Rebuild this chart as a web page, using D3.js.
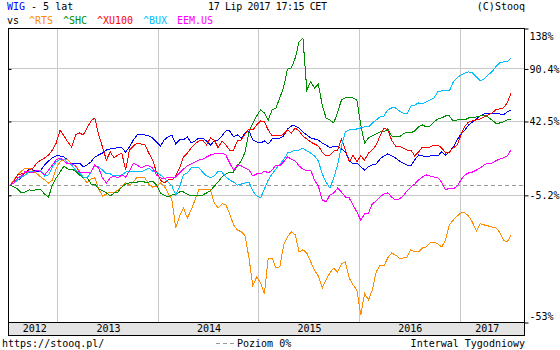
<!DOCTYPE html>
<html>
<head>
<meta charset="utf-8">
<script src="https://cdn.jsdelivr.net/npm/d3@7"></script>
<style>
  body { margin: 0; background: #fff; }
  svg text { font-family: "DejaVu Sans Mono", monospace; font-size: 10px; }
</style>
</head>
<body>
<svg id="chart" width="560" height="350"></svg>
<script>
// Quotes sampled every 2 weeks, percent change since the first week
const startDate = "2012-07-13";
const endDate = "2017-07-14";
const stepDays = 14;

const seriesNames = ["WIG", "^RTS", "^SHC", "^XU100", "^BUX", "EEM.US"];
const seriesColors = ["#0000ff", "#ff8c00", "#008c00", "#ff0000", "#00bfff", "#ff00ff"];

const wig = [0,1.2,2.9,4.1,7.5,9.3,8.7,7.5,8.7,11.8,14.3,16.2,17.5,17.5,16.8,14.9,12.4,13.0,13.0,10.6,11.8,13.7,16.8,18.1,19.4,21.4,22.1,22.1,23.4,22.8,20.1,23.4,28.3,31.9,31.9,31.9,31.2,29.7,26.9,24.1,28.3,30.5,31.9,25.5,28.3,28.3,30.5,26.2,27.6,29.7,29.7,27.6,24.8,27.6,28.3,31.2,34.9,34.9,30.5,31.9,29.7,33.4,34.9,28.3,26.9,26.2,27.6,25.5,29.0,29.7,29.7,31.2,36.4,38.6,38.6,37.1,34.1,31.9,29.7,29.0,28.3,26.2,24.8,22.8,24.1,24.1,22.1,20.1,14.9,12.4,13.0,10.6,8.7,10.6,11.8,12.4,15.5,17.5,18.8,17.5,16.2,14.3,13.0,11.8,11.2,14.9,18.1,17.5,16.8,17.5,18.1,17.5,20.1,18.1,20.1,23.4,28.3,32.6,35.6,39.4,41.7,44.1,46.5,48.1,48.9,48.9,48.9,48.1,47.3,49.7,51.4];
const rts = [0,2.9,5.8,8.1,9.9,9.9,8.1,6.4,4.6,2.9,1.2,2.9,9.9,13.7,15.5,14.9,12.4,11.2,8.1,4.1,1.2,3.5,4.1,-2.1,-5.8,-4.8,-3.7,-4.2,-2.6,-1.0,1.2,0,1.7,4.6,4.6,4.1,0.6,-1.0,-0.5,1.2,-0.5,-4.2,-7.8,-21.0,-15.7,-11.8,-16.6,-12.8,-7.8,-2.6,-2.1,-2.6,-2.6,-9.3,-11.8,-9.8,-10.3,-14.7,-19.7,-21.9,-22.7,-24.4,-33.1,-42.6,-39.7,-41.7,-45.1,-33.1,-33.1,-36.7,-36.3,-28.1,-24.8,-22.7,-24.0,-30.8,-30.0,-31.2,-34.5,-37.4,-39.4,-43.3,-40.7,-38.4,-36.7,-38.1,-35.2,-34.5,-40.1,-42.3,-43.9,-51.2,-45.0,-46.9,-43.9,-38.1,-35.6,-36.0,-33.1,-31.2,-32.0,-33.1,-33.1,-32.7,-30.0,-30.8,-30.8,-29.3,-28.9,-27.3,-26.9,-27.7,-28.9,-26.1,-19.7,-17.5,-15.7,-14.2,-14.2,-15.7,-18.6,-22.3,-19.2,-19.7,-20.1,-20.6,-21.0,-22.7,-26.1,-26.9,-24.0];
const shc = [0,-1.0,-2.1,-4.2,-3.7,-2.6,-3.1,-2.1,-2.6,-4.8,-6.3,0,4.1,7.5,11.2,9.3,9.3,8.1,5.8,4.1,4.6,0.6,0.6,-2.1,-3.1,-4.2,-5.8,-4.2,-3.7,-1.0,0.6,1.2,1.7,1.7,2.3,1.7,1.7,2.3,0,-4.2,-5.3,-6.3,-5.3,-4.8,-3.7,-3.7,-4.8,-5.8,-5.8,-5.3,-5.3,-4.2,-3.1,-0.5,1.7,4.6,6.4,7.5,7.5,11.2,14.3,20.1,34.0,40.9,46.5,51.4,48.9,43.3,51.4,53.1,61.8,71.9,89.7,90.9,101.7,120.4,125.3,69.1,76.7,71.0,74.8,55.6,44.9,43.3,40.9,49.7,60.0,61.8,61.8,61.8,60.0,39.4,26.2,29.7,31.2,32.6,34.1,34.1,36.4,31.2,30.5,30.5,32.6,34.1,33.4,34.9,37.9,39.4,37.9,38.6,41.7,44.1,44.9,46.5,46.5,42.5,43.3,43.3,43.3,44.9,44.9,45.7,46.5,47.3,45.7,43.3,40.9,40.9,41.7,43.3,44.1];
const xu100 = [0,2.3,5.8,6.4,7.0,8.7,9.9,13.0,14.9,16.2,18.1,21.4,26.2,35.6,31.2,26.9,23.4,31.9,33.4,31.9,37.1,42.5,44.9,31.9,23.4,14.9,20.1,16.2,18.1,19.4,8.7,21.4,24.1,26.2,25.5,24.8,19.4,14.9,7.5,2.9,1.2,2.9,2.9,5.2,9.9,16.8,19.4,22.8,25.5,27.6,28.3,24.8,29.7,28.3,22.8,27.6,24.8,21.4,21.4,27.6,28.3,32.6,36.4,35.6,39.4,42.5,41.7,35.6,31.2,31.9,31.2,32.6,35.6,33.4,37.1,34.9,31.2,29.0,26.9,25.5,24.1,20.1,17.5,18.1,20.7,21.4,29.0,21.4,13.7,18.1,13.7,17.5,14.9,19.4,21.4,24.8,31.2,37.1,35.6,28.3,24.1,24.1,22.8,21.4,21.4,17.5,20.1,23.4,23.4,23.4,24.8,24.8,22.8,19.4,20.1,22.8,24.8,31.9,38.6,41.7,42.5,43.3,44.1,45.7,47.3,48.9,51.4,52.3,53.1,57.4,66.3];
const bux = [0,1.2,2.9,4.6,5.8,8.1,7.5,8.7,8.1,5.2,5.8,10.6,13.7,15.5,15.5,13.0,11.8,8.7,7.0,4.6,4.1,7.5,11.2,10.6,8.7,6.4,6.4,5.2,5.2,5.8,7.5,8.1,8.1,8.1,7.5,8.7,9.9,8.1,7.5,5.8,4.1,1.7,-0.5,-5.3,-1.0,5.8,7.0,9.9,10.6,9.9,7.5,5.2,4.1,5.2,8.1,7.5,4.6,2.9,1.7,0,0.6,1.2,1.7,-3.1,-5.8,-6.8,-2.1,2.9,6.4,9.3,12.4,14.9,19.4,20.1,21.4,21.4,22.8,20.7,19.4,17.5,14.3,6.4,1.7,-1.6,4.1,11.8,24.1,34.1,35.6,35.6,36.4,37.1,37.9,37.9,40.9,43.3,45.7,46.5,51.4,53.1,53.1,50.6,48.9,48.1,54.7,55.6,57.4,56.5,58.2,60.0,61.8,67.3,68.2,68.2,68.2,76.7,80.7,83.6,85.7,86.8,85.7,81.7,77.7,79.7,83.6,86.8,91.9,96.2,97.3,97.3,101.7];
const eem = [0,1.2,4.1,5.2,8.1,7.5,7.0,8.7,7.5,5.8,8.7,11.8,14.9,16.2,14.3,12.4,12.4,11.2,7.5,7.5,7.0,7.5,11.8,9.9,4.1,1.2,4.1,5.2,4.1,5.8,4.6,8.1,13.0,11.8,9.9,11.2,11.2,9.9,5.8,4.1,3.5,4.6,4.6,4.6,7.0,9.3,11.2,12.4,13.7,14.9,15.5,16.8,18.1,18.8,18.8,19.4,18.1,13.0,8.7,11.8,11.2,9.9,8.7,5.2,6.4,6.4,8.1,7.0,8.7,11.8,11.2,13.7,16.8,15.5,14.3,11.2,9.3,8.1,8.7,2.9,-0.5,-7.8,-8.8,-5.3,-4.2,-1.6,-3.7,-6.3,-6.8,-10.3,-13.8,-17.5,-14.7,-14.3,-9.8,-8.3,-6.3,-4.8,-4.2,-6.3,-7.8,-7.3,-5.8,-3.1,-1.0,0.6,2.9,4.6,5.8,5.2,4.6,4.1,1.7,-2.6,-1.6,-2.1,-0.5,2.9,5.8,7.0,7.5,8.7,9.9,11.8,13.0,13.0,14.3,15.5,16.2,17.5,21.4];

const yearLabels = ["2012", "2013", "2014", "2015", "2016", "2017"];
const tickValues = [138, 90.4, 42.5, -5.2, -53];
const tickLabels = ["138%", "90.4%", "42.5%", "-5.2%", "-53%"];

const headerTitle = "WIG";
const headerRest = " - 5 lat";
const headerDate = "17 Lip 2017 17:15 CET";
const headerCopy = "(C)Stooq";
const footerUrl = "https://stooq.pl/";
const footerLevel = "Poziom 0%";
const footerInterval = "Interwal Tygodniowy";

const allSeries = [wig, rts, shc, xu100, bux, eem];

const svg = d3.select("#chart");
const plot = { left: 8, right: 524, top: 28, bottom: 322 };
const band = { top: 322, bottom: 335 };

const parse = d3.utcParse("%Y-%m-%d");
const t0 = parse(startDate);
const t1 = parse(endDate);

const x = d3.scaleUtc().domain([t0, t1]).range([10, 513]);
const y = d3.scaleLog()
  .domain([1 + tickValues[4] / 100, 1 + tickValues[0] / 100])
  .range([plot.bottom, plot.top]);

const dateAt = i => d3.utcDay.offset(t0, i * stepDays);
const yv = v => y(1 + v / 100);

// horizontal grid
svg.append("g")
  .selectAll("line")
  .data(tickValues.slice(1, 4))
  .join("line")
  .attr("x1", plot.left).attr("x2", plot.right)
  .attr("y1", d => Math.round(yv(d)) + 0.5).attr("y2", d => Math.round(yv(d)) + 0.5)
  .attr("stroke", "#c8c8c8");

// vertical grid at year boundaries
const years = d3.utcYear.range(d3.utcYear.ceil(t0), t1);
svg.append("g")
  .selectAll("line")
  .data(years)
  .join("line")
  .attr("x1", d => Math.round(x(d)) + 0.5).attr("x2", d => Math.round(x(d)) + 0.5)
  .attr("y1", plot.top).attr("y2", plot.bottom)
  .attr("stroke", "#c8c8c8");

// zero level
svg.append("line")
  .attr("x1", plot.left).attr("x2", plot.right)
  .attr("y1", Math.round(yv(0)) + 0.5).attr("y2", Math.round(yv(0)) + 0.5)
  .attr("stroke", "#999")
  .attr("stroke-dasharray", "4,3");

// series lines
const line = d3.line()
  .x((d, i) => x(dateAt(i)))
  .y(d => yv(d));

svg.append("g")
  .selectAll("path")
  .data(allSeries.map((s, k) => k))
  .join("path")
  .attr("d", k => line(allSeries[k]))
  .attr("fill", "none")
  .attr("stroke", k => seriesColors[k])
  .attr("stroke-width", 1)
  .attr("shape-rendering", "crispEdges");

// frame
svg.append("rect")
  .attr("x", plot.left + 0.5).attr("y", plot.top + 0.5)
  .attr("width", plot.right - plot.left).attr("height", plot.bottom - plot.top)
  .attr("fill", "none").attr("stroke", "#000");

// right axis with labels
const axisR = d3.axisRight(y)
  .tickValues(tickValues.map(v => 1 + v / 100))
  .tickFormat((d, i) => tickLabels[i])
  .tickSize(4)
  .tickPadding(1);
const gR = svg.append("g")
  .attr("transform", `translate(${plot.right + 0.5},0.5)`)
  .call(axisR);
gR.select(".domain").remove();
gR.selectAll("line").attr("stroke", "#000");
gR.selectAll("text")
  .attr("fill", "#000")
  .style("font-family", "'DejaVu Sans Mono', monospace")
  .style("font-size", "10px")
  .attr("dy", (d, i) => i === 0 ? "1.1em" : (i === tickValues.length - 1 ? "-0.35em" : "0.35em"));

// left inner ticks
const axisL = d3.axisRight(y)
  .tickValues(tickValues.slice(1, 4).map(v => 1 + v / 100))
  .tickFormat("")
  .tickSize(3);
const gL = svg.append("g")
  .attr("transform", `translate(${plot.left + 0.5},0.5)`)
  .call(axisL);
gL.select(".domain").remove();
gL.selectAll("line").attr("stroke", "#000");

// year band
svg.append("rect")
  .attr("x", plot.left + 0.5).attr("y", band.top + 0.5)
  .attr("width", plot.right - plot.left).attr("height", band.bottom - band.top)
  .attr("fill", "#e4e4e4").attr("stroke", "#000");

const bounds = [t0, ...years, t1];
svg.append("g")
  .selectAll("text")
  .data(yearLabels)
  .join("text")
  .attr("x", (d, i) => (Math.max(plot.left, x(bounds[i])) + Math.min(plot.right, x(bounds[i + 1]))) / 2 + 1)
  .attr("y", 332)
  .attr("text-anchor", "middle")
  .attr("fill", "#000")
  .text(d => d);

// header
const h1 = svg.append("text").attr("x", 7).attr("y", 10);
h1.append("tspan").attr("fill", "#0000ff").text(headerTitle);
h1.append("tspan").attr("fill", "#000").text(headerRest);
svg.append("text").attr("x", 208).attr("y", 10).attr("fill", "#000")
  .attr("textLength", 119).attr("lengthAdjust", "spacing").text(headerDate);
svg.append("text").attr("x", 525).attr("y", 10).attr("text-anchor", "end").attr("fill", "#000").text(headerCopy);

const legendItems = [{ label: "vs", color: "#000" }]
  .concat(seriesNames.slice(1).map((n, i) => ({ label: n, color: seriesColors[i + 1] })));
let lx = 7;
legendItems.forEach(it => {
  svg.append("text").attr("x", lx).attr("y", 24).attr("fill", it.color).text(it.label);
  lx += it.label.length * 6 + 10;
});

// footer
svg.append("text").attr("x", 2).attr("y", 347).attr("fill", "#000").text(footerUrl);
svg.append("line")
  .attr("x1", 216).attr("x2", 234).attr("y1", 343.5).attr("y2", 343.5)
  .attr("stroke", "#999").attr("stroke-dasharray", "4,3");
svg.append("text").attr("x", 237).attr("y", 347).attr("fill", "#000").text(footerLevel);
svg.append("text").attr("x", 525).attr("y", 347).attr("text-anchor", "end").attr("fill", "#000").text(footerInterval);
</script>
</body>
</html>
